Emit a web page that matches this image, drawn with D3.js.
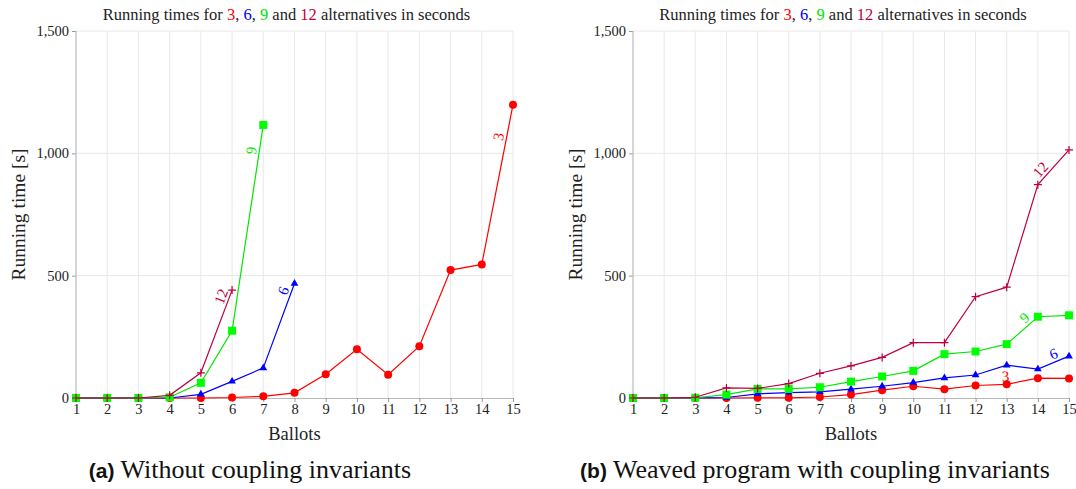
<!DOCTYPE html>
<html>
<head>
<meta charset="utf-8">
<script src="https://cdn.jsdelivr.net/npm/d3@7"></script>
<style>
  body { margin: 0; background: #fff; }
  svg { display: block; font-family: "Liberation Serif", "DejaVu Serif", serif; }
</style>
</head>
<body>
<svg id="chart" width="1076" height="489"></svg>
<script>
// données (temps en secondes)
const ballots = [1, 2, 3, 4, 5, 6, 7, 8, 9, 10, 11, 12, 13, 14, 15];
const yTicks = [0, 500, 1000, 1500];
const seriesNames = ["3", "6", "9", "12"];

// (a) sans invariants de couplage
const leftTime3 = [0, 0, 0, 0, 0, 2, 7, 21, 97, 199, 95, 212, 523, 546, 1199];
const leftTime6 = [0, 0, 0, 0, 15, 68, 123, 468];
const leftTime9 = [0, 0, 0, 3, 62, 275, 1116];
const leftTime12 = [0, 0, 0, 11, 103, 441];

// (b) programme tissé avec invariants de couplage
const rightTime3 = [0, 0, 0, 0, 1, 1, 4, 14, 32, 48, 36, 51, 56, 81, 80];
const rightTime6 = [0, 0, 0, 2, 17, 22, 25, 36, 48, 63, 82, 94, 134, 118, 171];
const rightTime9 = [0, 0, 1, 14, 37, 37, 44, 67, 88, 111, 179, 190, 220, 332, 338];
const rightTime12 = [0, 0, 3, 41, 39, 59, 101, 131, 166, 226, 226, 414, 453, 872, 1014];

const colors = { "3": "#ff0000", "6": "#0000ff", "9": "#00e600", "12": "#bf0040" };
const markerFill = { "3": "#ff0000", "6": "#0000ff", "9": "#00ff00", "12": "#bf0040" };

const svg = d3.select("#chart");

const panels = [
    {
        left: 76, right: 513, capX: 250, tag: "(a)", caption: " Without coupling invariants",
        series: [leftTime3, leftTime6, leftTime9, leftTime12],
        // segment + position du label sur la courbe
        labels: { "3": [13, 0.79], "6": [6, 0.88], "9": [5, 0.87], "12": [4, 0.89] }
    },
    {
        left: 633, right: 1069, capX: 815, tag: "(b)", caption: " Weaved program with coupling invariants",
        series: [rightTime3, rightTime6, rightTime9, rightTime12],
        labels: { "3": [11, 0.97], "6": [13, 0.6], "9": [12, 0.74], "12": [13, 0.28] }
    }
];

const plotTop = 31, plotBottom = 398;

panels.forEach(function(p) {
    const g = svg.append("g");

    const x = d3.scaleLinear().domain([1, 15]).range([p.left, p.right]);
    const y = d3.scaleLinear().domain([0, 1500]).range([plotBottom, plotTop]);

    // grille
    g.append("g").selectAll("line")
        .data(ballots)
        .enter()
        .append("line")
        .attr("x1", d => x(d)).attr("x2", d => x(d))
        .attr("y1", plotTop).attr("y2", plotBottom)
        .attr("stroke", "#e8e8e8").attr("stroke-width", 1);

    g.append("g").selectAll("line")
        .data(yTicks.slice(1))
        .enter()
        .append("line")
        .attr("x1", p.left).attr("x2", p.right)
        .attr("y1", d => y(d)).attr("y2", d => y(d))
        .attr("stroke", "#e8e8e8").attr("stroke-width", 1);

    // axes
    const xAxis = d3.axisBottom(x).tickValues(ballots).tickSize(4).tickPadding(2).tickFormat(d3.format("d"));
    const yAxis = d3.axisLeft(y).tickValues(yTicks).tickSize(4).tickPadding(3).tickFormat(d3.format(","));

    const gx = g.append("g").attr("transform", `translate(0,${plotBottom})`).call(xAxis);
    const gy = g.append("g").attr("transform", `translate(${p.left},0)`).call(yAxis);

    [gx, gy].forEach(function(a) {
        a.select(".domain").attr("stroke", "#b8b8b8");
        a.selectAll(".tick line").attr("stroke", "#999");
        a.selectAll(".tick text")
            .attr("fill", "#222")
            .style("font-family", "'Liberation Serif', serif")
            .style("font-size", "14.5px");
    });
    gy.select(".domain").remove();
    g.append("line")
        .attr("x1", p.left).attr("x2", p.left)
        .attr("y1", plotTop).attr("y2", plotBottom)
        .attr("stroke", "#b8b8b8");

    // titre
    const title = g.append("text")
        .attr("x", (p.left + p.right) / 2 - 8)
        .attr("y", 20)
        .attr("text-anchor", "middle")
        .style("font-size", "16.5px")
        .attr("fill", "#222");
    title.append("tspan").text("Running times for ");
    title.append("tspan").attr("fill", colors["3"]).text("3");
    title.append("tspan").text(", ");
    title.append("tspan").attr("fill", colors["6"]).text("6");
    title.append("tspan").text(", ");
    title.append("tspan").attr("fill", colors["9"]).text("9");
    title.append("tspan").text(" and ");
    title.append("tspan").attr("fill", colors["12"]).text("12");
    title.append("tspan").text(" alternatives in seconds");

    // noms des axes
    g.append("text")
        .attr("x", (p.left + p.right) / 2)
        .attr("y", 440)
        .attr("text-anchor", "middle")
        .style("font-size", "18.5px")
        .attr("fill", "#222")
        .text("Ballots");

    g.append("text")
        .attr("transform", `translate(${p.left - 51},${(plotTop + plotBottom) / 2}) rotate(-90)`)
        .attr("text-anchor", "middle")
        .style("font-size", "19.5px")
        .attr("fill", "#222")
        .text("Running time [s]");

    // légende sous le graphique
    const cap = g.append("text")
        .attr("x", p.capX)
        .attr("y", 478)
        .attr("text-anchor", "middle")
        .style("font-size", "26px")
        .attr("fill", "#111");
    cap.append("tspan")
        .style("font-family", "'Liberation Sans', sans-serif")
        .style("font-weight", "bold")
        .style("font-size", "21px")
        .text(p.tag);
    cap.append("tspan").text(p.caption);

    // courbes
    const line = d3.line().x((d, i) => x(ballots[i])).y(d => y(d));

    p.series.forEach(function(values, k) {
        const name = seriesNames[k];
        const col = colors[name];
        const fill = markerFill[name];

        g.append("path")
            .datum(values)
            .attr("d", line)
            .attr("fill", "none")
            .attr("stroke", col)
            .attr("stroke-width", 1.2);

        const marks = g.append("g").selectAll("g")
            .data(values)
            .enter()
            .append("g")
            .attr("transform", (d, i) => `translate(${x(ballots[i])},${y(d)})`);

        if (name === "3") {
            marks.append("circle").attr("r", 4).attr("fill", fill);
        } else if (name === "6") {
            marks.append("path").attr("d", d3.symbol(d3.symbolTriangle, 26)).attr("fill", fill);
        } else if (name === "9") {
            marks.append("rect").attr("x", -4).attr("y", -4).attr("width", 8).attr("height", 8).attr("fill", fill);
        } else {
            marks.append("path").attr("d", "M-4,0H4M0,-4V4").attr("stroke", fill).attr("stroke-width", 1.2);
        }

        // label le long de la courbe
        const seg = p.labels[name][0], t = p.labels[name][1];
        const x0 = x(ballots[seg]), y0 = y(values[seg]);
        const x1 = x(ballots[seg + 1]), y1 = y(values[seg + 1]);
        const len = Math.hypot(x1 - x0, y1 - y0);
        const ux = (x1 - x0) / len, uy = (y1 - y0) / len;
        const lx = x0 + ux * len * t + uy * 8;
        const ly = y0 + uy * len * t - ux * 8;
        const angle = Math.atan2(uy, ux) * 180 / Math.PI;

        g.append("text")
            .attr("transform", `translate(${lx},${ly}) rotate(${angle})`)
            .attr("text-anchor", "middle")
            .attr("dominant-baseline", "central")
            .style("font-size", "15px")
            .attr("fill", col)
            .text(name);
    });
});
</script>
</body>
</html>
